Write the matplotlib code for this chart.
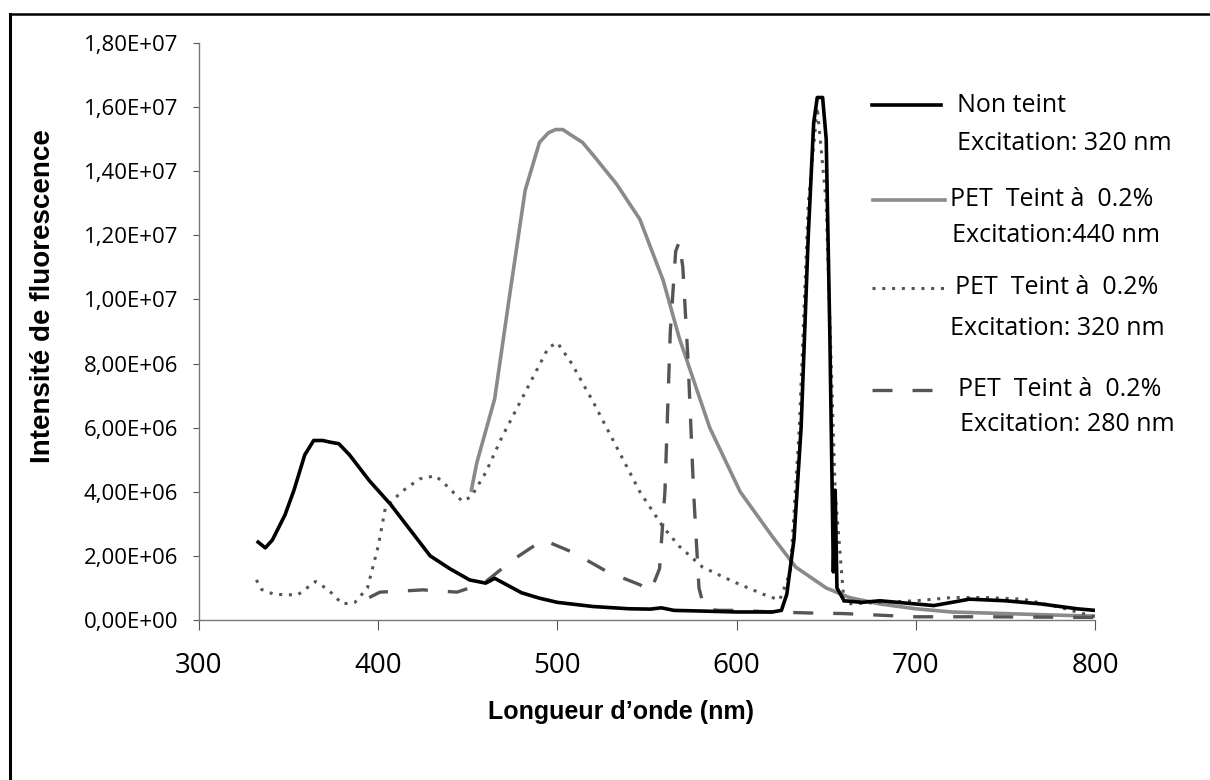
import numpy as np
import matplotlib
matplotlib.use("Agg")
import matplotlib.pyplot as plt
from matplotlib.ticker import FuncFormatter, MultipleLocator
from matplotlib.lines import Line2D

# --- data (wavelength nm, intensity) ---
nt_x = [333, 337, 341, 348, 353, 359, 364, 369, 373, 378, 384, 395, 407, 418, 429, 440, 451,
        460, 465, 470, 480, 490, 500, 520, 540, 552, 558, 565, 580, 600, 620, 625, 628, 632,
        636, 640, 643, 645, 648, 650, 652, 654, 655, 656, 660, 670, 680, 690, 700, 710, 720,
        730, 750, 770, 790, 800]
nt_y = [2.43e6, 2.25e6, 2.5e6, 3.28e6, 4.05e6, 5.15e6, 5.6e6, 5.6e6, 5.55e6, 5.5e6, 5.15e6,
        4.35e6, 3.6e6, 2.8e6, 2.0e6, 1.6e6, 1.25e6, 1.15e6, 1.3e6, 1.15e6, 0.85e6, 0.68e6,
        0.55e6, 0.42e6, 0.35e6, 0.34e6, 0.38e6, 0.3e6, 0.28e6, 0.25e6, 0.25e6, 0.3e6, 0.8e6,
        2.5e6, 6.0e6, 12.0e6, 15.5e6, 16.3e6, 16.3e6, 15.0e6, 9.0e6, 1.5e6, 4.05e6, 1.0e6,
        0.6e6, 0.55e6, 0.6e6, 0.55e6, 0.5e6, 0.45e6, 0.55e6, 0.65e6, 0.6e6, 0.5e6, 0.35e6,
        0.3e6]

p440_x = [452, 455, 460, 465, 473, 482, 490, 495, 499, 503, 507, 514, 520, 533, 546, 559,
          568, 585, 602, 620, 633, 650, 663, 680, 700, 720, 750, 780, 800]
p440_y = [4.05e6, 4.9e6, 5.9e6, 6.9e6, 10.0e6, 13.4e6, 14.9e6, 15.2e6, 15.3e6, 15.3e6,
          15.15e6, 14.9e6, 14.5e6, 13.6e6, 12.5e6, 10.6e6, 8.8e6, 6.0e6, 4.0e6, 2.6e6, 1.65e6,
          1.0e6, 0.7e6, 0.5e6, 0.35e6, 0.25e6, 0.2e6, 0.15e6, 0.12e6]

p320_x = [332, 335, 342, 355, 365, 372, 380, 387, 394, 400, 404, 413, 423, 432, 438, 447,
          452, 460, 469, 482, 495, 500, 508, 520, 533, 546, 559, 568, 581, 598, 615, 624,
          630, 635, 640, 645, 650, 655, 660, 680, 700, 720, 740, 760, 780, 800]
p320_y = [1.25e6, 0.95e6, 0.8e6, 0.78e6, 1.2e6, 0.95e6, 0.5e6, 0.55e6, 1.0e6, 2.3e6, 3.5e6,
          4.0e6, 4.4e6, 4.5e6, 4.2e6, 3.7e6, 3.85e6, 4.6e6, 5.7e6, 7.1e6, 8.5e6, 8.65e6, 8.0e6,
          6.8e6, 5.4e6, 4.0e6, 2.9e6, 2.3e6, 1.65e6, 1.2e6, 0.8e6, 0.62e6, 1.5e6, 6.0e6,
          13.0e6, 16.0e6, 13.0e6, 4.0e6, 0.5e6, 0.55e6, 0.6e6, 0.7e6, 0.7e6, 0.65e6, 0.4e6,
          0.1e6]

p280_x = [395, 401, 412, 425, 444, 459, 475, 492, 509, 528, 546, 552, 557, 560, 563, 566,
          568, 570, 573, 576, 579, 582, 590, 600, 620, 640, 660, 680, 700, 740, 800]
p280_y = [0.7e6, 0.87e6, 0.9e6, 0.94e6, 0.87e6, 1.15e6, 1.87e6, 2.5e6, 2.1e6, 1.5e6, 1.1e6,
          0.9e6, 1.6e6, 4.0e6, 9.0e6, 11.5e6, 11.8e6, 11.0e6, 8.0e6, 4.0e6, 1.0e6, 0.35e6,
          0.3e6, 0.3e6, 0.25e6, 0.22e6, 0.2e6, 0.15e6, 0.1e6, 0.1e6, 0.08e6]

x_ticks = [300, 400, 500, 600, 700, 800]

plt.rcParams['font.family'] = ['Open Sans', 'DejaVu Sans']

fig = plt.figure(figsize=(12.1, 7.8), dpi=100)
ax = fig.add_axes([199 / 1210, 1 - 620 / 780, (1095 - 199) / 1210, (620 - 43) / 780])

ax.plot(p440_x, p440_y, color='#8a8a8a', lw=2.6, solid_joinstyle='round')
ax.plot(p320_x, p320_y, color='#555555', lw=2.2, linestyle=(0, (1, 2.2)))
ax.plot(p280_x, p280_y, color='#555555', lw=2.4, linestyle=(0, (6, 6)))
ax.plot(nt_x, nt_y, color='black', lw=2.6, solid_joinstyle='round')

ax.set_xlim(300, 800)
ax.set_ylim(0, 1.8e7)
ax.set_xticks(x_ticks)
ax.yaxis.set_major_locator(MultipleLocator(2e6))
ax.yaxis.set_major_formatter(FuncFormatter(lambda v, p: f"{v:.2E}".replace('.', ',')))

for s in ['top', 'right']:
    ax.spines[s].set_visible(False)
for s in ['left', 'bottom']:
    ax.spines[s].set_color('#777777')
    ax.spines[s].set_linewidth(1.0)
ax.tick_params(axis='y', length=4, color='#555555', labelsize=16, pad=11)
ax.tick_params(axis='x', length=7, color='#555555', labelsize=20, pad=16)

lab_font = ['Liberation Sans', 'DejaVu Sans']
fig.text(621 / 1210, 1 - 712 / 780, "Longueur d\u2019onde (nm)", fontsize=18,
         fontweight='bold', family=lab_font, ha='center', va='center')
fig.text(43 / 1210, 1 - 296 / 780, "Intensité de fluorescence", fontsize=20,
         fontweight='bold', family=lab_font, ha='center', va='center', rotation=90)

# legend, drawn by hand to keep the two-line layout
def fx(px):
    return px / 1210

def fy(py):
    return 1 - py / 780

leg = [
    (872, 941, 105, 'black', 2.6, '-', "Non teint", 957, "Excitation: 320 nm", 957, 143),
    (873, 945, 200, '#8a8a8a', 2.6, '-', "PET  Teint à  0.2%", 950, "Excitation:440 nm", 952, 235),
    (872, 945, 288, '#555555', 2.2, (0, (1, 2.2)), "PET  Teint à  0.2%", 955, "Excitation: 320 nm", 950, 328),
    (872, 947, 390, '#555555', 2.4, (0, (6, 6)), "PET  Teint à  0.2%", 958, "Excitation: 280 nm", 960, 425),
]
for x0, x1, y, c, lw, ls, t1, tx1, t2, tx2, y2 in leg:
    fig.add_artist(Line2D([fx(x0), fx(x1)], [fy(y), fy(y)], color=c, lw=lw, linestyle=ls))
    fig.text(fx(tx1), fy(y), t1, fontsize=18, va='center', ha='left')
    fig.text(fx(tx2), fy(y2), t2, fontsize=18, va='center', ha='left')

# outer chart frame: only the left and top edges fall inside the picture
fig.add_artist(Line2D([fx(10), fx(10)], [0, fy(14)], color='black', lw=2.2))
fig.add_artist(Line2D([fx(10), 1], [fy(14), fy(14)], color='black', lw=1.8))

fig.savefig("out.png", dpi=100)
